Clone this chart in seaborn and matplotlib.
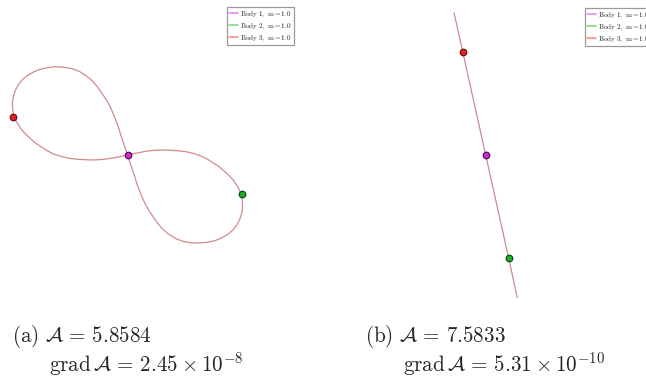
import matplotlib
matplotlib.use("Agg")
import matplotlib.pyplot as plt
import seaborn as sns
import pandas as pd
from matplotlib.lines import Line2D

# figure-eight orbit (center of mass at 0, 1 unit = 100 px)
loop_right_x = [0.0, 0.06, 0.12, 0.19, 0.255, 0.34, 0.42, 0.51, 0.59, 0.67, 0.74, 0.80,
                0.86, 0.92, 0.97, 1.02, 1.06, 1.09, 1.115, 1.132, 1.145, 1.15, 1.15, 1.14,
                1.12, 1.09, 1.05, 1.00, 0.94, 0.88, 0.80, 0.72, 0.64, 0.56, 0.48, 0.41,
                0.35, 0.30, 0.255, 0.21, 0.17, 0.135, 0.10, 0.07, 0.04, 0.02, 0.0]
loop_right_y = [0.0, 0.013, 0.025, 0.038, 0.046, 0.05, 0.048, 0.042, 0.032, 0.013, -0.012, -0.042,
                -0.08, -0.12, -0.163, -0.21, -0.255, -0.30, -0.34, -0.385, -0.43, -0.48, -0.53, -0.59,
                -0.65, -0.705, -0.755, -0.795, -0.83, -0.855, -0.873, -0.88, -0.878, -0.865, -0.835, -0.79,
                -0.74, -0.68, -0.615, -0.55, -0.475, -0.395, -0.305, -0.21, -0.12, -0.06, 0.0]
loop_left_x = [0.0, -0.06, -0.12, -0.19, -0.26, -0.34, -0.42, -0.51, -0.59, -0.67, -0.745, -0.80,
               -0.86, -0.92, -0.97, -1.02, -1.06, -1.09, -1.115, -1.133, -1.145, -1.15, -1.15, -1.14,
               -1.12, -1.09, -1.05, -1.00, -0.94, -0.88, -0.80, -0.725, -0.64, -0.56, -0.48, -0.41,
               -0.35, -0.30, -0.255, -0.21, -0.17, -0.135, -0.10, -0.07, -0.04, -0.02, 0.0]
loop_left_y = [0.0, -0.013, -0.025, -0.037, -0.045, -0.05, -0.047, -0.042, -0.032, -0.012, 0.012, 0.042,
               0.08, 0.12, 0.163, 0.21, 0.255, 0.30, 0.34, 0.383, 0.43, 0.48, 0.53, 0.59,
               0.65, 0.705, 0.755, 0.795, 0.83, 0.855, 0.873, 0.883, 0.878, 0.865, 0.835, 0.79,
               0.74, 0.68, 0.615, 0.55, 0.475, 0.395, 0.305, 0.21, 0.12, 0.06, 0.0]

# collinear orbit
line_x = [-0.317, -0.23, 0.0, 0.23, 0.316]
line_y = [1.423, 1.033, 0.0, -1.033, -1.427]

bodies = ["Body 1", "Body 2", "Body 3"]
masses = [1.0, 1.0, 1.0]
pos_a_x = [0.0, 1.142, -1.142]
pos_a_y = [0.0, -0.39, 0.383]
pos_b_x = [0.0, 0.23, -0.23]
pos_b_y = [0.0, -1.033, 1.033]

actions = [5.8584, 7.5833]
grads = [r"2.45 \times 10^{-8}", r"5.31 \times 10^{-10}"]

ball_face = ["#d02ad0", "#20b030", "#e82020"]
ball_edge = ["#5a105a", "#0c5014", "#701010"]
legend_col = ["#e690e6", "#8cd68c", "#ff8c8c"]
orbit_col = "#d48a8a"

sns.set_theme(style="white")
plt.rcParams["mathtext.fontset"] = "cm"
plt.rcParams["font.family"] = ["DejaVu Serif"]

W, H = 646, 381
fig = plt.figure(figsize=(W / 100, H / 100), dpi=100)


def axes_px(x0, y0, x1, y1):
    return fig.add_axes([x0 / W, 1 - y1 / H, (x1 - x0) / W, (y1 - y0) / H])


def draw_panel(ax, cx, cy, x0, y0, x1, y1, orbits, px, py):
    for ox, oy in orbits:
        df = pd.DataFrame({"x": ox, "y": oy})
        sns.lineplot(data=df, x="x", y="y", sort=False, estimator=None,
                     color=orbit_col, lw=0.9, ax=ax)
    for i in range(3):
        sns.scatterplot(x=[px[i]], y=[py[i]], s=22, color=ball_face[i],
                        edgecolor=ball_edge[i], linewidth=0.9, ax=ax, zorder=5)
    ax.set_xlim((x0 - cx) / 100, (x1 - cx) / 100)
    ax.set_ylim((cy - y1) / 100, (cy - y0) / 100)
    ax.set_axis_off()


def add_legend(ax, lx, ly):
    handles = [Line2D([], [], color=legend_col[i], lw=1.2) for i in range(3)]
    labels = [r"$\mathrm{%s,\ m} = %.1f$" % (bodies[i].replace(" ", r"\ "), masses[i])
              for i in range(3)]
    leg = ax.legend(handles, labels, loc="upper left", bbox_to_anchor=(lx / W, 1 - ly / H),
                    bbox_transform=fig.transFigure, borderaxespad=0, fontsize=5.1,
                    handlelength=1.2, handletextpad=0.35, borderpad=0.3, labelspacing=0.3,
                    fancybox=False, framealpha=1)
    leg.get_frame().set_edgecolor("#9a9a9a")
    leg.get_frame().set_linewidth(0.9)


ax1 = axes_px(0, 0, 310, 290)
draw_panel(ax1, 127.5, 155, 0, 0, 310, 290,
           [(loop_right_x, loop_right_y), (loop_left_x, loop_left_y)], pos_a_x, pos_a_y)
add_legend(ax1, 227.3, 7.3)

# right legend runs off the figure edge, as in the original
ax2 = axes_px(330, 0, 700, 305)
draw_panel(ax2, 485.7, 155, 330, 0, 700, 305, [(line_x, line_y)], pos_b_x, pos_b_y)
add_legend(ax2, 585, 8.3)

caps = [("a", 12, 49), ("b", 365, 403)]
for i, (tag, x1, x2) in enumerate(caps):
    fig.text(x1 / W, 1 - 341.7 / H, r"$\mathrm{(%s)}\ \mathcal{A} \,=\, %.4f$" % (tag, actions[i]),
             fontsize=15.2, va="baseline", ha="left")
    fig.text(x2 / W, 1 - 371.7 / H, r"$\mathrm{grad}\,\mathcal{A} \,=\, %s$" % grads[i],
             fontsize=15.2, va="baseline", ha="left")

fig.savefig("out.png", dpi=100)
